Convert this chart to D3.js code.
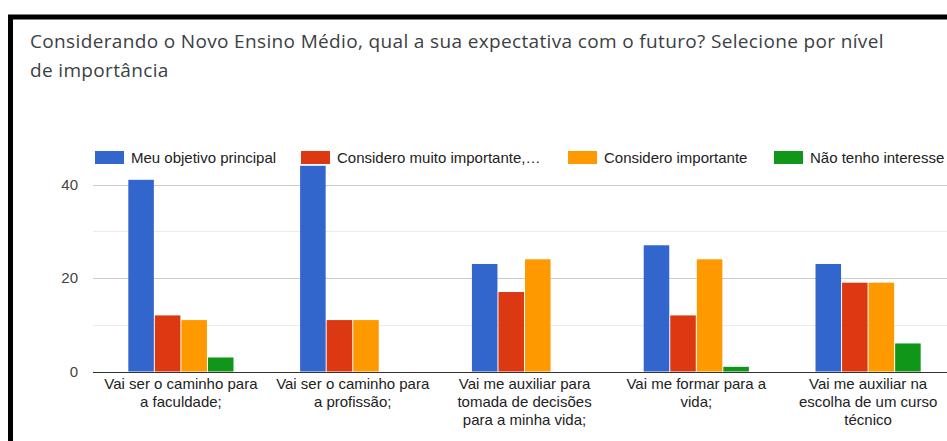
<!DOCTYPE html>
<html>
<head>
<meta charset="utf-8">
<script src="https://cdn.jsdelivr.net/npm/d3@7"></script>
<style>
  html, body { margin: 0; padding: 0; background: #fff; overflow: hidden; }
</style>
</head>
<body>
<div id="chart"></div>
<script>
const width = 947;
const height = 441;

const fontFamily = "Arial, 'Liberation Sans', sans-serif";

// Categories (each one already split into the lines shown under the axis)
const categories = [
    ["Vai ser o caminho para", "a faculdade;"],
    ["Vai ser o caminho para", "a profissão;"],
    ["Vai me auxiliar para", "tomada de decisões", "para a minha vida;"],
    ["Vai me formar para a", "vida;"],
    ["Vai me auxiliar na", "escolha de um curso", "técnico"]
];

const seriesNames = ["Meu objetivo principal", "Considero muito importante,…", "Considero importante", "Não tenho interesse"];
const seriesColors = ["#3366cc", "#dc3912", "#ff9900", "#109618"];

// Values per series, one per category
const objetivoPrincipal = [41, 44, 23, 27, 23];
const muitoImportante = [12, 11, 17, 12, 19];
const importante = [11, 11, 24, 24, 19];
const semInteresse = [3, 0, 0, 1, 6];
const seriesValues = [objetivoPrincipal, muitoImportante, importante, semInteresse];

const yTicks = [0, 20, 40];
const yMinorTicks = [10, 30];

const svg = d3.select("#chart").append("svg")
    .attr("width", width)
    .attr("height", height);

// black frame around the card (cut off on the right and bottom)
svg.append("rect")
    .attr("x", 10.5)
    .attr("y", 17)
    .attr("width", 1000)
    .attr("height", 500)
    .attr("fill", "none")
    .attr("stroke", "#000")
    .attr("stroke-width", 5);

// Title
const title = svg.append("text")
    .attr("x", 30)
    .attr("y", 48)
    .attr("fill", "#3c4043")
    .attr("font-family", "'Open Sans', sans-serif")
    .attr("font-size", "19px")
    .attr("letter-spacing", "0.35px");
title.append("tspan").attr("x", 30).attr("dy", 0)
    .text("Considerando o Novo Ensino Médio, qual a sua expectativa com o futuro? Selecione por nível");
title.append("tspan").attr("x", 30).attr("dy", 29)
    .text("de importância");

// Scales
const x0 = d3.scaleBand()
    .domain(d3.range(categories.length))
    .range([95, 954])
    .paddingInner(0.382)
    .paddingOuter(0.191);

const x1 = d3.scaleBand()
    .domain(d3.range(seriesNames.length))
    .range([0, x0.bandwidth()]);

const y = d3.scaleLinear()
    .domain([0, 40])
    .range([371.5, 184.5]);

// Gridlines
svg.append("g")
    .selectAll("line")
    .data(yMinorTicks)
    .enter()
    .append("line")
    .attr("x1", 93)
    .attr("x2", width)
    .attr("y1", d => Math.round(y(d)) + 0.5)
    .attr("y2", d => Math.round(y(d)) + 0.5)
    .attr("stroke", "#ebebeb");

svg.append("g")
    .selectAll("line")
    .data(yTicks.filter(d => d !== 0))
    .enter()
    .append("line")
    .attr("x1", 93)
    .attr("x2", width)
    .attr("y1", d => Math.round(y(d)) + 0.5)
    .attr("y2", d => Math.round(y(d)) + 0.5)
    .attr("stroke", "#cccccc");

// Y axis labels
svg.append("g")
    .selectAll("text")
    .data(yTicks)
    .enter()
    .append("text")
    .attr("x", 78)
    .attr("y", d => y(d) + 5)
    .attr("text-anchor", "end")
    .attr("fill", "#444")
    .attr("font-family", fontFamily)
    .attr("font-size", "15px")
    .text(d => d);

// Bars
const groups = svg.append("g")
    .selectAll("g")
    .data(categories)
    .enter()
    .append("g")
    .attr("transform", (d, i) => `translate(${x0(i)},0)`);

groups.selectAll("rect")
    .data((d, i) => seriesValues.map((vals, s) => ({ s: s, v: vals[i] })))
    .enter()
    .filter(d => d.v > 0)
    .append("rect")
    .attr("x", d => x1(d.s) + 0.5)
    .attr("width", x1.bandwidth() - 1)
    .attr("y", d => y(d.v))
    .attr("height", d => y(0) - y(d.v))
    .attr("fill", d => seriesColors[d.s]);

// Baseline
svg.append("line")
    .attr("x1", 93)
    .attr("x2", width)
    .attr("y1", Math.round(y(0)) + 0.5)
    .attr("y2", Math.round(y(0)) + 0.5)
    .attr("stroke", "#333")
    .attr("stroke-width", 1);

// X axis labels
const xLabels = svg.append("g")
    .selectAll("text")
    .data(categories)
    .enter()
    .append("text")
    .attr("text-anchor", "middle")
    .attr("fill", "#222")
    .attr("font-family", fontFamily)
    .attr("font-size", "15px")
    .attr("transform", (d, i) => `translate(${x0(i) + x0.bandwidth() / 2},389)`);

xLabels.selectAll("tspan")
    .data(d => d)
    .enter()
    .append("tspan")
    .attr("x", 0)
    .attr("y", (d, i) => i * 18)
    .text(d => d);

// Legend
const legendX = [95, 301, 568, 774];
const legend = svg.append("g")
    .selectAll("g")
    .data(seriesNames)
    .enter()
    .append("g")
    .attr("transform", (d, i) => `translate(${legendX[i]},151)`);

legend.append("rect")
    .attr("width", 29)
    .attr("height", 13)
    .attr("fill", (d, i) => seriesColors[i]);

legend.append("text")
    .attr("x", 36)
    .attr("y", 12)
    .attr("fill", "#222")
    .attr("font-family", fontFamily)
    .attr("font-size", "15px")
    .text(d => d);
</script>
</body>
</html>
